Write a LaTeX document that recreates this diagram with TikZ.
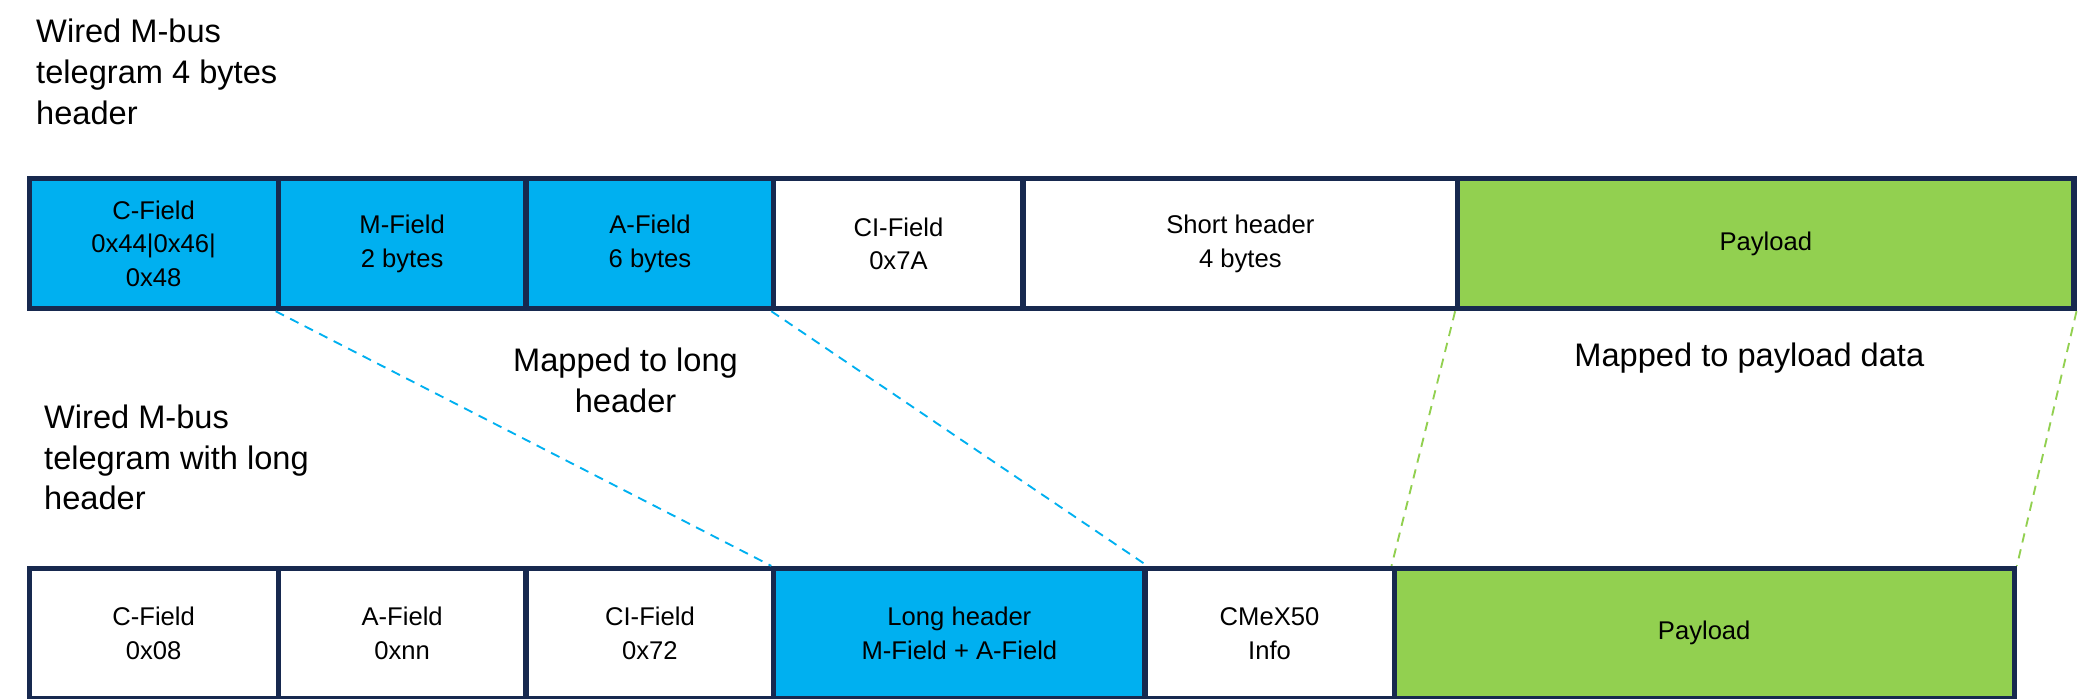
\documentclass[tikz,border=0pt]{standalone}
\usepackage{fontspec}
\setmainfont{Liberation Sans}
\begin{document}
\begin{tikzpicture}[x=0.02cm,y=-0.02cm,
  fld/.style={draw=navy,line width=2.2pt,align=center,font=\fontsize{11}{14.5}\selectfont,inner sep=0pt},
  lbl/.style={align=left,font=\fontsize{14}{17.5}\selectfont,inner sep=0pt},
  map/.style={dashed,line width=0.8pt,dash pattern=on 4pt off 3pt}]
\definecolor{navy}{HTML}{17294F}
\definecolor{cy}{HTML}{00B0F0}
\definecolor{gr}{HTML}{92D050}
\useasboundingbox (0,0) rectangle (1568,527);
\foreach \n/\a/\b/\c/\t in {t1/20/208/cy/{C-Field\\0x44|0x46|\\0x48},t2/208/395/cy/{M-Field\\2 bytes},t3/395/582/cy/{A-Field\\6 bytes},t4/582/770/white/{CI-Field\\0x7A},t5/770/1098/white/{Short header\\4 bytes},t6/1098/1563/gr/{Payload}}
  \node[fld,fill=\c,minimum width={(\b-\a)*0.02cm},minimum height=1.96cm,anchor=north west] (\n) at (\a,133) {\t};
\foreach \n/\a/\b/\c/\t in {b1/20/208/white/{C-Field\\0x08},b2/208/395/white/{A-Field\\0xnn},b3/395/582/white/{CI-Field\\0x72},b4/582/862/cy/{Long header\\M-Field + A-Field},b5/862/1050/white/{CMeX50\\Info},b6/1050/1518/gr/{Payload}}
  \node[fld,fill=\c,minimum width={(\b-\a)*0.02cm},minimum height=1.96cm,anchor=north west] (\n) at (\a,427) {\t};
\draw[map,cy] (t2.south west) -- (b4.north west);
\draw[map,cy] (t4.south west) -- (b4.north east);
\draw[map,gr] (t6.south west) -- (b6.north west);
\draw[map,gr] (t6.south east) -- (b6.north east);
\node[lbl,anchor=north west] (h1) at (27,14) {Wired M-bus\\telegram 4 bytes\\header};
\node[lbl,anchor=north west] (h2) at (33,305) {Wired M-bus\\telegram with long\\header};
\node[lbl,align=center] (m1) at (472,287) {Mapped to long\\header};
\node[lbl,align=center] (m2) at (1320,270) {Mapped to payload data};
\end{tikzpicture}
\end{document}
